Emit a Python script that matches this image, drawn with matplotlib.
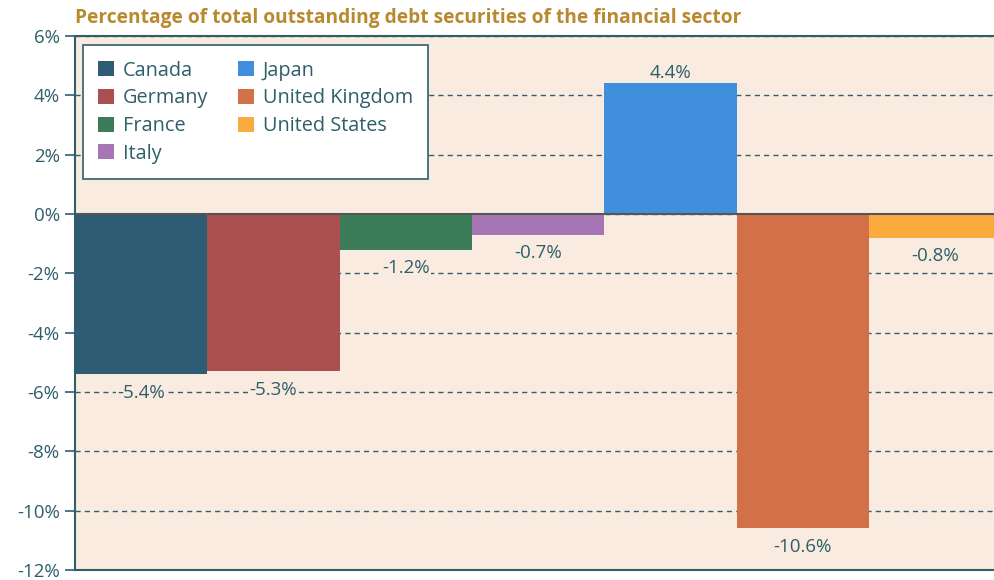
import matplotlib
matplotlib.use('Agg')
import matplotlib.pyplot as plt
from matplotlib.patches import Patch

# 数据
countries = ['Canada', 'Germany', 'France', 'Italy', 'Japan', 'United Kingdom', 'United States']
values = [-5.4, -5.3, -1.2, -0.7, 4.4, -10.6, -0.8]
colors = ['#2E5C74', '#AA5050', '#3A7D58', '#A676B4', '#3F8FDC', '#D27047', '#FBAA3E']
yticks = [6, 4, 2, 0, -2, -4, -6, -8, -10, -12]

TEXT = '#2E5F6B'
BG = '#F9EBDF'

plt.rcParams['font.family'] = ['Open Sans', 'DejaVu Sans']

fig = plt.figure(figsize=(9.95, 5.8), dpi=100)
ax = fig.add_axes([75 / 995, 10 / 580, 920 / 995, 534 / 580])
ax.set_facecolor(BG)

x = list(range(len(values)))
ax.bar(x, values, width=1.0, color=colors, zorder=3)

# 零线
ax.axhline(0, color='#555555', lw=1.5, zorder=4)

# 数值标签（背景色遮住网格线）
for xi, v in zip(x, values):
    if v >= 0:
        ax.text(xi, v + 0.05, f'{v:.1f}%', ha='center', va='bottom',
                fontsize=13.5, color=TEXT, zorder=5,
                bbox=dict(facecolor=BG, edgecolor='none', pad=1))
    else:
        ax.text(xi, v - 0.32, f'{v:.1f}%', ha='center', va='top',
                fontsize=13.5, color=TEXT, zorder=5,
                bbox=dict(facecolor=BG, edgecolor='none', pad=1))

ax.set_xlim(-0.5, -0.5 + 920 / 132.3)
ax.set_ylim(-12, 6)
ax.set_yticks(yticks)
ax.set_yticklabels([f'{t}%' for t in yticks], fontsize=13.5, color=TEXT)
ax.set_xticks([])
ax.tick_params(axis='y', length=7, width=1.2, color=TEXT, pad=4)

ax.grid(axis='y', linestyle=(0, (3.7, 3)), color=TEXT, lw=1.0, zorder=1)
for s in ['left', 'top', 'bottom']:
    ax.spines[s].set_color(TEXT)
    ax.spines[s].set_linewidth(1.5)
ax.spines['right'].set_visible(False)

# 图例
handles = [Patch(facecolor=c, label=n) for c, n in zip(colors, countries)]
leg = ax.legend(handles=handles, loc='upper left', ncol=2, fontsize=14.3,
                bbox_to_anchor=(0.0087, 0.983), frameon=True, fancybox=False,
                handlelength=0.78, handleheight=0.78, handletextpad=0.45,
                columnspacing=1.5, labelspacing=0.39, borderpad=0.78,
                borderaxespad=0, labelcolor=TEXT)
leg.get_frame().set_edgecolor(TEXT)
leg.get_frame().set_linewidth(1.2)
leg.get_frame().set_facecolor('white')
leg.get_frame().set_alpha(1)
leg.set_zorder(6)

fig.text(75 / 995, 1 - 18 / 580, 'Percentage of total outstanding debt securities of the financial sector',
         fontsize=13.8, fontweight='bold', color='#B8892F', ha='left', va='center')

fig.savefig('out.png', dpi=100)
